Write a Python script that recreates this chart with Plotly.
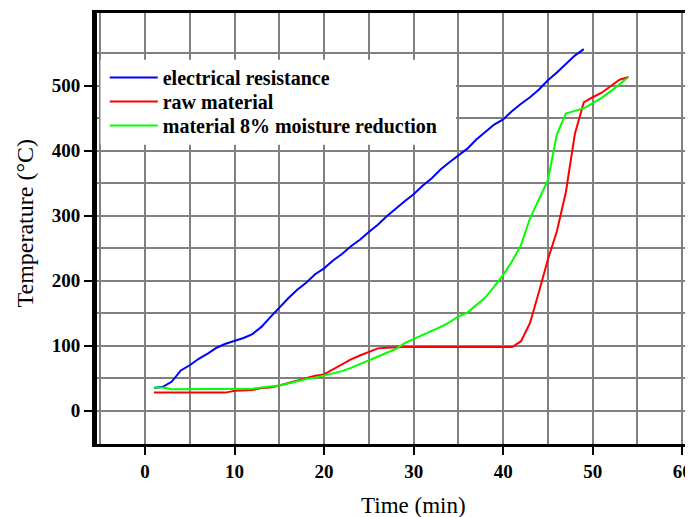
import plotly.graph_objects as go

# ---- data ----
time_blue = list(range(1, 50))
electrical_resistance = [35, 37, 45, 62, 70, 80, 88, 97, 103, 107,
                         112, 118, 129, 144, 159, 173, 186, 197, 210, 219,
                         231, 241, 253, 263, 275, 286, 299, 311, 322, 333,
                         346, 357, 371, 382, 393, 403, 417, 428, 440, 448,
                         461, 472, 482, 494, 508, 520, 533, 546, 556]

time_red = list(range(1, 55))
raw_material = [28, 28, 28, 28, 28, 28, 28, 28, 28, 31,
                31, 32, 35, 36, 39, 43, 47, 50, 54, 56,
                64, 72, 79, 85, 91, 96, 97, 98, 98, 98,
                98, 98, 98, 98, 98, 98, 98, 98, 98, 98,
                98, 107, 135, 183, 233, 276, 336, 425, 474, 482,
                489, 499, 509, 513]

time_green = list(range(1, 55))
moisture_reduction = [36, 36, 33, 33, 33, 33, 33, 33, 33, 33,
                      33, 34, 36, 37, 39, 42, 46, 49, 51, 54,
                      57, 61, 66, 72, 78, 83, 90, 95, 104, 110,
                      117, 123, 129, 136, 145, 151, 162, 174, 191, 209,
                      230, 255, 296, 325, 355, 425, 457, 461, 465, 473,
                      481, 491, 502, 513]

series_names = ["electrical resistance", "raw material", "material 8% moisture reduction"]
series_colors = ["#0000FF", "#FF0000", "#00FF00"]

x_major = [0, 10, 20, 30, 40, 50, 60]
x_minor = [-5, 5, 15, 25, 35, 45, 55]
y_major = [0, 100, 200, 300, 400, 500]
y_minor = [-50, 50, 150, 250, 350, 450, 550]

FONT = "Liberation Serif, Times New Roman, serif"
GRID = "#808080"
legend_ids = ["legend", "legend2", "legend3"]
legend_y = [0.8505, 0.7947, 0.7390]

fig = go.Figure()
for xs, ys, name, color, lg in zip([time_blue, time_red, time_green],
                                   [electrical_resistance, raw_material, moisture_reduction],
                                   series_names, series_colors, legend_ids):
    fig.add_trace(go.Scatter(x=xs, y=ys, mode="lines", name=name, legend=lg,
                             line=dict(color=color, width=2)))

legend_common = dict(x=0.013, xanchor="left", yanchor="middle",
                     bgcolor="rgba(0,0,0,0)", borderwidth=0,
                     font=dict(family=FONT, size=20, color="black", weight="bold"),
                     itemwidth=48)

fig.update_layout(
    width=685, height=509,
    margin=dict(l=88.5, r=0, t=5.3, b=73, autoexpand=False),
    paper_bgcolor="white", plot_bgcolor="white",
    font=dict(family=FONT, color="black"),
    showlegend=True,
    legend=dict(y=legend_y[0], **legend_common),
    legend2=dict(y=legend_y[1], **legend_common),
    legend3=dict(y=legend_y[2], **legend_common),
    # white panel behind the legend entries
    shapes=[dict(type="rect", xref="paper", yref="paper",
                 x0=0.0059, x1=0.6023, y0=0.6942, y1=0.8916,
                 fillcolor="white", line=dict(width=0), layer="above")],
    xaxis=dict(range=[-5.36, 61.2], tickvals=x_major, ticks="outside", ticklen=8,
               tickwidth=2, tickcolor="black",
               tickfont=dict(family=FONT, size=19, weight="bold", color="black"),
               showgrid=True, gridcolor=GRID, gridwidth=2, zeroline=False,
               minor=dict(tickvals=x_minor, showgrid=True, gridcolor=GRID, gridwidth=2, ticks=""),
               showline=True, linecolor="black", linewidth=3, mirror=True),
    yaxis=dict(range=[-51, 611.5], tickvals=y_major, ticks="outside", ticklen=8,
               tickwidth=2, tickcolor="black",
               tickfont=dict(family=FONT, size=19, weight="bold", color="black"),
               showgrid=True, gridcolor=GRID, gridwidth=2, zeroline=False,
               minor=dict(tickvals=y_minor, showgrid=True, gridcolor=GRID, gridwidth=2, ticks=""),
               showline=True, linecolor="black", linewidth=5, mirror=False),
    annotations=[
        dict(text="Time (min)", xref="paper", yref="paper", x=0.5306, y=-0.1416,
             xanchor="center", yanchor="middle", showarrow=False,
             font=dict(family=FONT, size=23, color="black")),
        dict(text="Temperature (°C)", xref="paper", yref="paper", x=-0.1215, y=0.513,
             xanchor="center", yanchor="middle", textangle=-90, showarrow=False,
             font=dict(family=FONT, size=24, color="black")),
    ],
)

fig.write_html("out.html")
